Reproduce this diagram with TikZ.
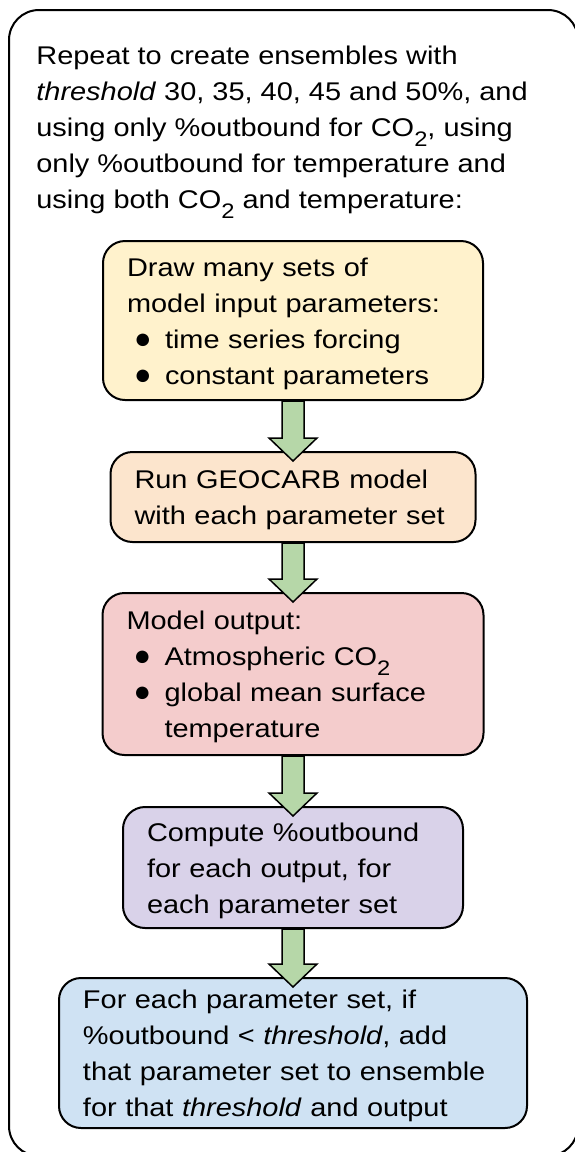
\documentclass[tikz,border=0pt]{standalone}
\usepackage{fontspec}
\setmainfont{Liberation Sans}[FakeStretch=1.13]
\newfontfamily\bulletfont{Liberation Sans}
\usetikzlibrary{calc}
\definecolor{drawyellow}{HTML}{FFF2CC}
\definecolor{runorange}{HTML}{FCE5CD}
\definecolor{outputred}{HTML}{F4CCCC}
\definecolor{boundpurple}{HTML}{D9D2E9}
\definecolor{keepblue}{HTML}{CFE2F3}
\definecolor{flowgreen}{HTML}{B6D7A8}
\newcommand\subtwo{\raisebox{-5pt}{\fontsize{10.5pt}{12pt}\selectfont 2}}
\newcommand\blt{\hspace*{3.5pt}\makebox[15.5pt][l]{\bulletfont\fontsize{14.5pt}{18pt}\selectfont ●}}
\def\blockarrow(#1)(#2){\draw[flow] ($(#1.south)+(-11,0)$) -- ($(#1.south)+(11,0)$) -- ($(#2.north)+(11,-13)$) -- ($(#2.north)+(24,-13)$) -- ($(#2.north)+(0,10)$) -- ($(#2.north)+(-24,-13)$) -- ($(#2.north)+(-11,-13)$) -- cycle;}
\tikzset{
	stage/.style={draw, line width=1pt, rounded corners=11pt, align=left, inner xsep=12pt, inner ysep=0pt, text height=12.2pt},
	flow/.style={draw, line width=0.75pt, fill=flowgreen, line join=miter}
}

\begin{document}
\begin{tikzpicture}[x=0.5pt, y=-0.5pt, font=\fontsize{12.8pt}{18pt}\selectfont]
			%%%%% START %%%%%
			\useasboundingbox (0, 0) rectangle (574, 1152);
			
			\draw[line width=1pt, rounded corners=15pt] (9, 10) rectangle (578, 1156);
			
			\node[anchor=north west, inner sep=0pt, align=left] (intro) at (36, 45.7) {Repeat to create ensembles with\\ \textit{threshold} 30, 35, 40, 45 and 50\%, and\\ using only \%outbound for CO\subtwo, using\\ only \%outbound for temperature and\\ using both CO\subtwo\ and temperature:};
			
			\node[stage, fill=drawyellow, text width=166pt, minimum height=79.5pt] (sample) at (293, 320.5) {Draw many sets of\\ model input parameters:\\ \blt time series forcing\\ \blt constant parameters};
			
			\node[stage, fill=runorange, text width=158.5pt, minimum height=45pt] (run) at (293, 497) {Run GEOCARB model\\ with each parameter set};
			
			\node[stage, fill=outputred, text width=166.5pt, minimum height=81pt] (output) at (293, 674) {Model output:\\ \blt Atmospheric CO\subtwo\\ \blt global mean surface\\ \hspace*{19pt}temperature};
			
			\node[stage, fill=boundpurple, text width=146pt, minimum height=60.5pt] (outbound) at (293, 867.5) {Compute \%outbound\\ for each output, for\\ each parameter set};
			
			\node[stage, fill=keepblue, text width=210pt, minimum height=75pt] (ensemble) at (293, 1053) {For each parameter set, if\\ \%outbound < \textit{threshold}, add\\ that parameter set to ensemble\\ for that \textit{threshold} and output};
			
			\blockarrow(sample)(run)
			\blockarrow(run)(output)
			\blockarrow(output)(outbound)
			\blockarrow(outbound)(ensemble)
			
			%%%%% END %%%%%
\end{tikzpicture}
\end{document}
